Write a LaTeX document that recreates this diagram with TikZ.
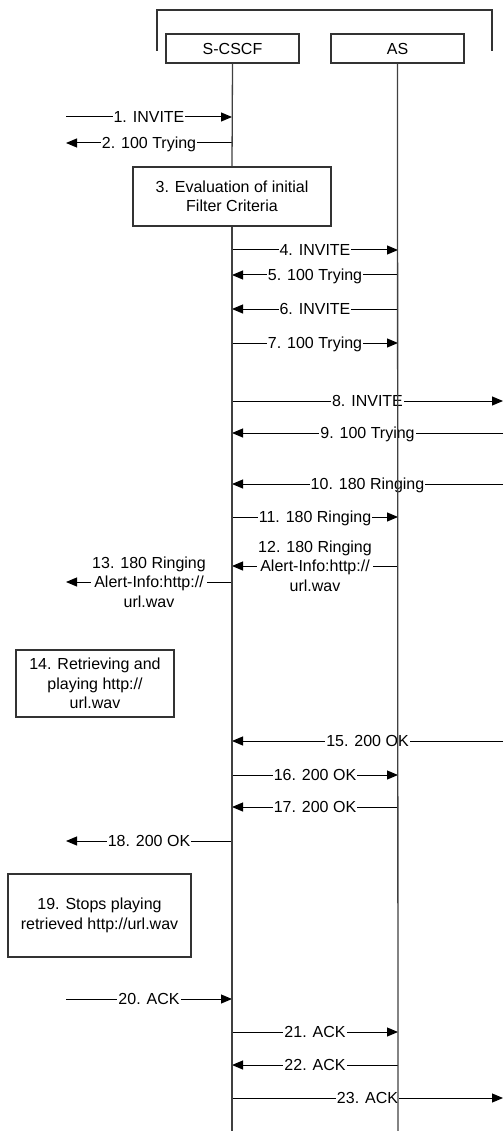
\documentclass[tikz,border=0pt]{standalone}
\usepackage{fontspec}
\setmainfont{Liberation Sans}
\usetikzlibrary{arrows.meta}
\begin{document}
\begin{tikzpicture}[x=1pt,y=-1pt,
  font=\fontsize{16}{19.5}\selectfont,
  ent/.style={draw=black!80, line width=1.1pt, minimum width=133pt, minimum height=29pt, inner sep=0pt},
  proc/.style={draw=black!80, line width=1.1pt, align=center, inner sep=0pt},
  lbl/.style={fill=white, inner sep=1pt, text height=11.5pt, text depth=0pt},
  lblm/.style={fill=white, inner sep=1pt, align=center},
  msg/.style={line width=1pt, -{Triangle[length=11pt,width=9pt]}},
  life/.style={line width=1.3pt, draw=black!75},
  frame/.style={line width=1.1pt, draw=black!80}]
\useasboundingbox (0,0) rectangle (503,1131);
% bracket
\coordinate (brA) at (157,51);
\coordinate (brB) at (157,10);
\coordinate (brC) at (492,10);
\coordinate (brD) at (492,51);
\draw[frame] (brA) -- (brB) -- (brC) -- (brD);
% entities
\node[ent] (scscf) at (232.5,48.5) {S-CSCF};
\node[ent] (as) at (397.5,48.5) {AS};
% process boxes
\node[proc, minimum width=198pt, minimum height=59pt] (b3) at (232,196.5) {3. Evaluation of initial\\Filter Criteria};
\node[proc, minimum width=158pt, minimum height=67pt] (b14) at (95,683.5) {14. Retrieving and\\playing http://\\url.wav};
\node[proc, minimum width=183pt, minimum height=83pt] (b19) at (99.5,915.5) {19. Stops playing\\retrieved http://url.wav};
% coordinates
\foreach \n/\y in {1/117,2/143,4/250,5/275,6/309,7/343,8/401,9/433,10/484,11/517,12/566,13/582,15/741,16/775,17/807,18/841,20/999,21/1032,22/1065,23/1098}{
  \coordinate (L\n) at (66,\y);
  \coordinate (S\n) at (232,\y);
  \coordinate (A\n) at (398,\y);
  \coordinate (R\n) at (503,\y);
}
% messages
\draw[msg] (L1) -- node[lbl]{1. INVITE} (S1);
\draw[msg] (S2) -- node[lbl]{2. 100 Trying} (L2);
\draw[msg] (S4) -- node[lbl]{4. INVITE} (A4);
\draw[msg] (A5) -- node[lbl]{5. 100 Trying} (S5);
\draw[msg] (A6) -- node[lbl]{6. INVITE} (S6);
\draw[msg] (S7) -- node[lbl]{7. 100 Trying} (A7);
\draw[msg] (S8) -- node[lbl]{8. INVITE} (R8);
\draw[msg] (R9) -- node[lbl]{9. 100 Trying} (S9);
\draw[msg] (R10) -- node[lbl]{10. 180 Ringing} (S10);
\draw[msg] (S11) -- node[lbl]{11. 180 Ringing} (A11);
\draw[msg] (A12) -- node[lblm]{12. 180 Ringing\\Alert-Info:http://\\url.wav} (S12);
\draw[msg] (S13) -- node[lblm]{13. 180 Ringing\\Alert-Info:http://\\url.wav} (L13);
\draw[msg] (R15) -- node[lbl]{15. 200 OK} (S15);
\draw[msg] (S16) -- node[lbl]{16. 200 OK} (A16);
\draw[msg] (A17) -- node[lbl]{17. 200 OK} (S17);
\draw[msg] (S18) -- node[lbl]{18. 200 OK} (L18);
\draw[msg] (L20) -- node[lbl]{20. ACK} (S20);
\draw[msg] (S21) -- node[lbl]{21. ACK} (A21);
\draw[msg] (A22) -- node[lbl]{22. ACK} (S22);
\draw[msg] (S23) -- node[lbl]{23. ACK} (R23);
% lifelines
\coordinate (sEnd) at (232,1131);
\coordinate (aEnd) at (398,1131);
\draw[life] (scscf.south) -- (b3.north);
\draw[life] (b3.south) -- (sEnd);
\draw[life] (as.south) -- (aEnd);
\end{tikzpicture}
\end{document}
